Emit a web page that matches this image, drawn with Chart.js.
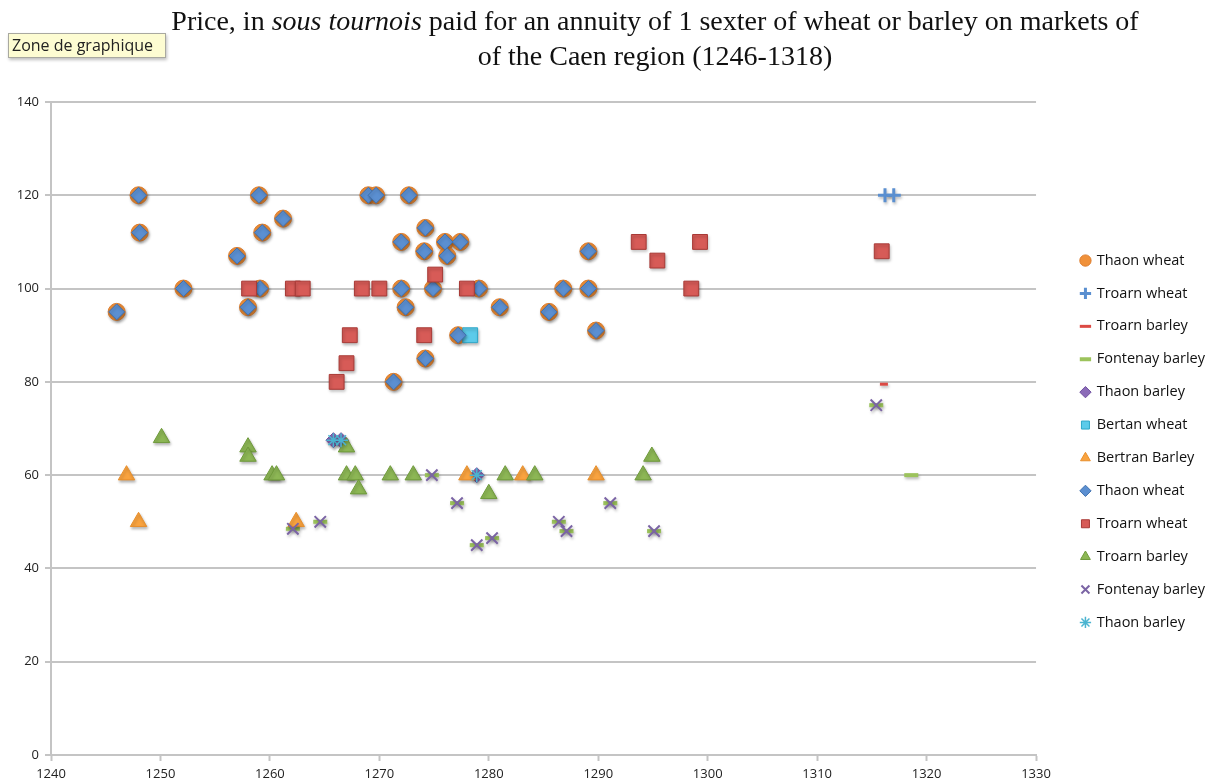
<!DOCTYPE html>
<html>
<head>
<meta charset="utf-8">
<script src="https://cdn.jsdelivr.net/npm/chart.js@4.4.1/dist/chart.umd.min.js"></script>
<style>
  html, body { margin: 0; padding: 0; background: #fff; overflow: hidden; }
  #wrap { position: relative; width: 1219px; height: 781px; }
  #chart { position: absolute; left: 0; top: 0; }
  #title {
    position: absolute; left: 0; top: 3px; width: 1310px;
    text-align: center; font: 28px "Liberation Serif", serif; line-height: 35px; color: #111;
  }
  #zone {
    position: absolute; left: 8px; top: 33px; width: 158px; height: 25px;
    background: #fdfcd2; border: 1px solid #a9a9a0; box-shadow: 1px 2px 3px rgba(0,0,0,0.25);
    font: 16px "Open Sans", sans-serif; line-height: 23px; padding-left: 3px; box-sizing: border-box; color: #222;
    white-space: nowrap; overflow: hidden;
  }
</style>
</head>
<body>
<div id="wrap">
  <canvas id="chart" width="1219" height="781"></canvas>
  <div id="title">Price, in <i>sous tournois</i> paid for an annuity of 1 sexter of wheat or barley on markets of<br>of the Caen region (1246-1318)</div>
  <div id="zone">Zone de graphique</div>
</div>
<script>
// ---- data (year, price in sous tournois) ----
const thaonWheatYears  = [1246, 1248, 1248.1, 1252.1, 1257, 1258, 1259, 1259.3, 1259.1, 1261.2,
                          1269, 1269.7, 1272.7, 1274.2, 1272, 1276, 1277.4, 1274.1, 1276.2, 1272,
                          1274.9, 1279.1, 1272.4, 1281, 1285.5, 1286.8, 1289.1, 1289.1, 1289.8, 1277.2,
                          1274.2, 1271.3];
const thaonWheatPrices = [95, 120, 112, 100, 107, 96, 120, 112, 100, 115,
                          120, 120, 120, 113, 110, 110, 110, 108, 107, 100,
                          100, 100, 96, 96, 95, 100, 100, 108, 91, 90,
                          85, 80];

const troarnWheatYears  = [1258.1, 1262.1, 1263, 1268.4, 1270, 1275.1, 1278, 1267.3, 1274.1, 1267,
                           1266.1, 1293.7, 1295.4, 1299.3, 1298.5, 1315.9];
const troarnWheatPrices = [100, 100, 100, 100, 100, 103, 100, 90, 90, 84,
                           80, 110, 106, 110, 100, 108];

const troarnWheatPlusYears  = [1316.2, 1317];
const troarnWheatPlusPrices = [120, 120];

const bertanWheatYears  = [1278.3];
const bertanWheatPrices = [90];

const troarnBarleyYears  = [1250.1, 1258, 1258, 1260.2, 1260.6, 1267, 1267, 1267.8, 1268.1, 1271,
                            1273.1, 1280, 1281.5, 1284.2, 1294.9, 1294.1];
const troarnBarleyPrices = [68, 66, 64, 60, 60, 66, 60, 60, 57, 60,
                            60, 56, 60, 60, 64, 60];
const troarnBarleyDashYears  = troarnBarleyYears.concat([1316.1]);
const troarnBarleyDashPrices = troarnBarleyPrices.concat([79.5]);

const bertranBarleyYears  = [1246.9, 1248, 1262.4, 1278, 1283.1, 1289.8];
const bertranBarleyPrices = [60, 50, 50, 60, 60, 60];

const fontenayBarleyYears  = [1262.1, 1264.6, 1274.8, 1277.1, 1278.9, 1280.3, 1286.4, 1287.1, 1291.1, 1295.1, 1315.4];
const fontenayBarleyPrices = [48.5, 50, 60, 54, 45, 46.5, 50, 48, 54, 48, 75];
const fontenayDashYears  = fontenayBarleyYears.concat([1318.6]);
const fontenayDashPrices = fontenayBarleyPrices.concat([60]);

const thaonBarleyYears  = [1265.8, 1266.5, 1278.9];
const thaonBarleyPrices = [67.5, 67.5, 60];

const xTicks = { min: 1240, max: 1330, step: 10 };
const yTicks = { min: 0, max: 140, step: 20 };

function pts(xs, ys) {
  return xs.map((x, i) => ({ x: x, y: ys[i] }));
}

// Excel draws later series on top; chart.js draws the lowest "order" on top
const series = [
  { label: 'Thaon wheat',     data: pts(thaonWheatYears, thaonWheatPrices),         pointStyle: 'circle',   pointRadius: 8.5, backgroundColor: '#f0913a', borderColor: '#dc7c2c', borderWidth: 1 },
  { label: 'Troarn wheat',    data: pts(troarnWheatPlusYears, troarnWheatPlusPrices), pointStyle: 'cross',  pointRadius: 7,   backgroundColor: '#5a8fd0', borderColor: '#5a8fd0', borderWidth: 3 },
  { label: 'Troarn barley',   data: pts(troarnBarleyDashYears, troarnBarleyDashPrices), pointStyle: 'line', pointRadius: 4,   backgroundColor: '#dc4a44', borderColor: '#dc4a44', borderWidth: 3 },
  { label: 'Fontenay barley', data: pts(fontenayDashYears, fontenayDashPrices),     pointStyle: 'line',     pointRadius: 7,   backgroundColor: '#9cc35c', borderColor: '#9cc35c', borderWidth: 4 },
  { label: 'Thaon barley',    data: pts(thaonBarleyYears, thaonBarleyPrices),       pointStyle: 'rectRot',  pointRadius: 7.5, backgroundColor: '#8b6bb8', borderColor: '#7050a0', borderWidth: 1 },
  { label: 'Bertan wheat',    data: pts(bertanWheatYears, bertanWheatPrices),       pointStyle: 'rect',     pointRadius: 10.5, backgroundColor: '#5ccbea', borderColor: '#2ea7c8', borderWidth: 1 },
  { label: 'Bertran Barley',  data: pts(bertranBarleyYears, bertranBarleyPrices),   pointStyle: 'triangle', pointRadius: 9.5, backgroundColor: '#f9a33f', borderColor: '#e88f2c', borderWidth: 1 },
  { label: 'Thaon wheat',     data: pts(thaonWheatYears, thaonWheatPrices),         pointStyle: 'rectRot',  pointRadius: 8,   backgroundColor: '#5b8fd1', borderColor: '#3f70ae', borderWidth: 1 },
  { label: 'Troarn wheat',    data: pts(troarnWheatYears, troarnWheatPrices),       pointStyle: 'rect',     pointRadius: 10.5, backgroundColor: '#d75b57', borderColor: '#a83a36', borderWidth: 1 },
  { label: 'Troarn barley',   data: pts(troarnBarleyYears, troarnBarleyPrices),     pointStyle: 'triangle', pointRadius: 9.5, backgroundColor: '#8db755', borderColor: '#6e9a3a', borderWidth: 1 },
  { label: 'Fontenay barley', data: pts(fontenayBarleyYears, fontenayBarleyPrices), pointStyle: 'crossRot', pointRadius: 8,   backgroundColor: '#7b64a5', borderColor: '#7b64a5', borderWidth: 2 },
  { label: 'Thaon barley',    data: pts(thaonBarleyYears, thaonBarleyPrices),       pointStyle: 'star',     pointRadius: 7,   backgroundColor: '#4bb4d0', borderColor: '#4bb4d0', borderWidth: 1.5 }
];
series.forEach((s, i) => {
  s.order = series.length - i;
  s.showLine = false;
  s.pointHoverRadius = s.pointRadius;
});

// soft drop shadow like the Excel markers
const markerShadow = {
  id: 'markerShadow',
  beforeDatasetDraw(chart) {
    const c = chart.ctx;
    c.save();
    c.shadowColor = 'rgba(0,0,0,0.28)';
    c.shadowBlur = 3;
    c.shadowOffsetX = 1;
    c.shadowOffsetY = 2;
  },
  afterDatasetDraw(chart) {
    chart.ctx.restore();
  }
};

const tickFont = { family: 'Open Sans', size: 13 };
const gridGrey = '#c4c4c4';

new Chart(document.getElementById('chart'), {
  type: 'scatter',
  data: { datasets: series },
  plugins: [markerShadow],
  options: {
    responsive: false,
    animation: false,
    events: [],
    layout: { padding: { left: 4, top: 102, right: 4, bottom: 0 } },
    plugins: {
      title: { display: false },
      tooltip: { enabled: false },
      legend: {
        position: 'right',
        align: 'center',
        labels: {
          usePointStyle: true,
          boxWidth: 8,
          boxHeight: 8,
          padding: 18.4,
          color: '#111',
          font: { family: 'Open Sans', size: 14.5 },
          sort: (a, b) => a.datasetIndex - b.datasetIndex
        }
      }
    },
    scales: {
      x: {
        type: 'linear',
        min: xTicks.min,
        max: xTicks.max,
        ticks: { stepSize: xTicks.step, color: '#222', font: tickFont, padding: 5, callback: v => String(v) },
        grid: { drawOnChartArea: false, drawTicks: true, tickLength: 6, tickColor: gridGrey, tickWidth: 2 },
        border: { color: gridGrey, width: 2 },
        afterFit: s => { s.height = 26; }
      },
      y: {
        min: yTicks.min,
        max: yTicks.max,
        ticks: { stepSize: yTicks.step, color: '#222', font: tickFont, padding: 6 },
        grid: { color: gridGrey, lineWidth: 2, drawTicks: true, tickLength: 6, tickColor: gridGrey },
        border: { color: gridGrey, width: 2 },
        afterFit: s => { s.width = 47; }
      },
      // empty spacer between the plot and the legend
      gap: {
        position: 'right',
        display: true,
        grid: { display: false },
        border: { display: false },
        ticks: { display: false },
        afterFit: s => { s.width = 27; }
      }
    }
  }
});
</script>
</body>
</html>
